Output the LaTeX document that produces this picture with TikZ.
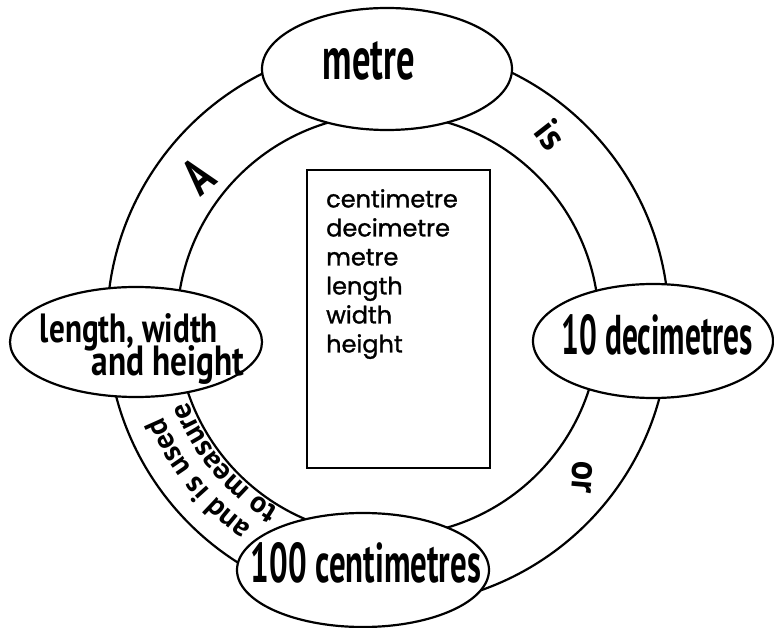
\documentclass[tikz,border=0pt]{standalone}
\usepackage{fontspec}
\usepackage{graphicx}
\setmainfont{PT Sans}
\newfontfamily\boxfont{Poppins}[FakeBold=1.2]
\usetikzlibrary{shapes.geometric,decorations.text,calc}
\begin{document}
\begin{tikzpicture}[x=1pt,y=1pt,
  ring/.style={line width=2.2pt},
  oval/.style={ellipse, draw, line width=2.2pt, fill=white, inner sep=0pt},
  hand/.style={inner sep=0pt, anchor=base, font=\bfseries},
  tilted/.style={inner sep=0pt, anchor=center, font=\bfseries},
]
\useasboundingbox[fill=white] (0,0) rectangle (774,-628);
\coordinate (c) at (388,-325);
\draw[ring] (c) circle[radius=281];
\draw[ring] (c) circle[radius=211];

% ovals
\node[oval, minimum width=250pt, minimum height=122pt] (metre) at (387,-69) {};
\node[oval, minimum width=240pt, minimum height=114pt] (dec) at (653,-341) {};
\node[oval, minimum width=252pt, minimum height=110pt] (lwh) at (136,-342) {};
\node[oval, minimum width=252pt, minimum height=114pt] (cm) at (363,-570) {};

% labels in ovals
\node[hand] (tmetre) at (369,-80) {\resizebox{92pt}{38pt}{metre}};
\node[hand] (tdec) at (657,-355) {\resizebox{191pt}{40pt}{10 decimetres}};
\node[hand] (tcm) at (366,-582) {\resizebox{230pt}{40pt}{100 centimetres}};
\node[hand] (tlwh1) at (129,-342) {\resizebox{178pt}{29pt}{length, width}};
\node[hand] (tlwh2) at (168,-376) {\resizebox{153pt}{30pt}{and height}};

% ring labels
\node[tilted, rotate=40] (ta) at (198,-176) {\resizebox{24pt}{36pt}{A}};
\node[tilted, rotate=-52] (tis) at (551,-135) {\resizebox{26pt}{27pt}{is}};
\node[tilted, rotate=-95] (tor) at (582,-477) {\resizebox{32pt}{20pt}{or}};

\path[decorate, decoration={text along path, text align=center,
  text={|\fontsize{30}{30}\selectfont\bfseries|and is used}}]
  ($(c)+(-120:243)$) arc[start angle=-120, end angle=-162, radius=243];
\path[decorate, decoration={text along path, text align=center,
  text={|\fontsize{30}{30}\selectfont\bfseries|to measure}}]
  ($(c)+(-118:214)$) arc[start angle=-118, end angle=-162, radius=214];

% word box
\node[draw, line width=2.4pt, minimum width=183pt, minimum height=298pt, inner sep=0pt] (box) at (398.5,-319) {};
\node[anchor=north west, align=left, inner sep=0pt, font=\boxfont\fontsize{24}{29}\selectfont] (words) at (326,-189)
  {centimetre\\decimetre\\metre\\length\\width\\height};
\end{tikzpicture}
\end{document}
